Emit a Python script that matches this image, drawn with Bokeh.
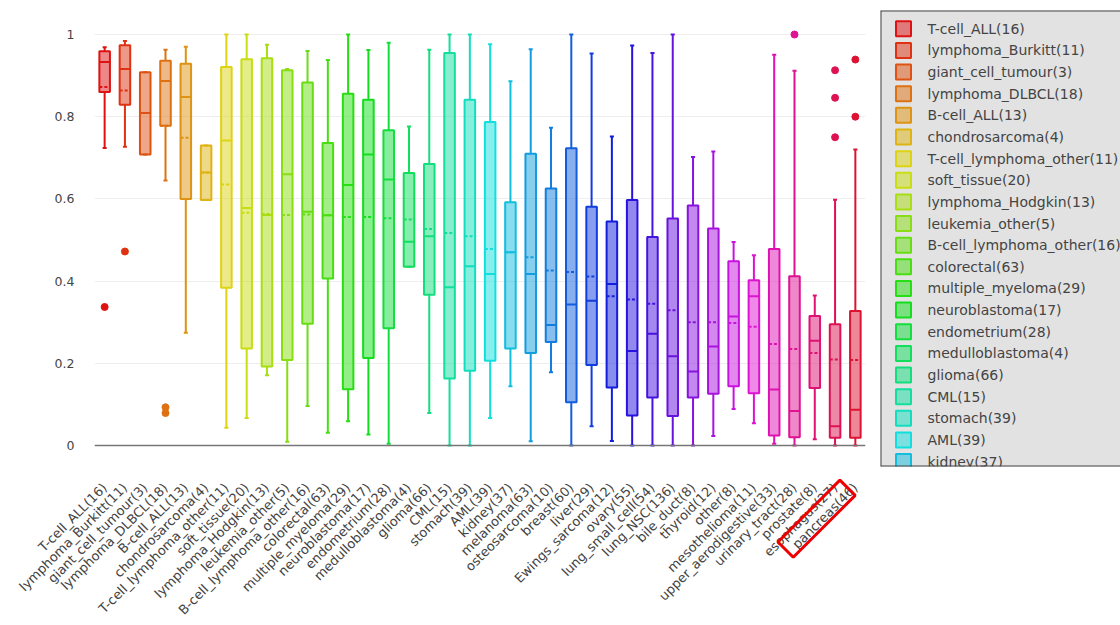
import colorsys
import math

from bokeh.core.properties import value
from bokeh.embed import file_html
from bokeh.layouts import column, row
from bokeh.models import (ColumnDataSource, FactorRange, FixedTicker,
                          NumeralTickFormatter, Range1d, Span)
from bokeh.plotting import figure
from bokeh.resources import INLINE
from bokeh.transform import dodge

# ---- data -----------------------------------------------------------------
tissues = ["T-cell_ALL", "lymphoma_Burkitt", "giant_cell_tumour", "lymphoma_DLBCL",
           "B-cell_ALL", "chondrosarcoma", "T-cell_lymphoma_other", "soft_tissue",
           "lymphoma_Hodgkin", "leukemia_other", "B-cell_lymphoma_other", "colorectal",
           "multiple_myeloma", "neuroblastoma", "endometrium", "medulloblastoma",
           "glioma", "CML", "stomach", "AML", "kidney", "melanoma", "osteosarcoma",
           "breast", "liver", "Ewings_sarcoma", "ovary", "lung_small_cell", "lung_NSC",
           "bile_duct", "thyroid", "other", "mesothelioma", "upper_aerodigestive",
           "urinary_tract", "prostate", "esophagus", "pancreas"]
counts = [16, 11, 3, 18, 13, 4, 11, 20, 13, 5, 16, 63, 29, 17, 28, 4, 66, 15, 39,
          39, 37, 63, 10, 60, 29, 12, 55, 54, 136, 8, 12, 8, 11, 33, 28, 8, 27, 46]

whisker_low = [0.724, 0.727, 0.708, 0.645, 0.274, 0.597, 0.043, 0.067, 0.171, 0.009,
               0.096, 0.031, 0.059, 0.027, 0.004, 0.435, 0.079, 0.0, 0.0, 0.067,
               0.144, 0.010, 0.178, 0.0, 0.047, 0.011, 0.0, 0.0, 0.0, 0.0,
               0.023, 0.089, 0.054, 0.004, 0.0, 0.015, 0.0, 0.0]
q1 = [0.860, 0.829, 0.708, 0.778, 0.600, 0.597, 0.384, 0.236, 0.192, 0.208,
      0.296, 0.406, 0.137, 0.213, 0.285, 0.435, 0.367, 0.163, 0.182, 0.206,
      0.236, 0.225, 0.252, 0.105, 0.196, 0.141, 0.073, 0.117, 0.072, 0.117,
      0.126, 0.144, 0.127, 0.024, 0.020, 0.140, 0.019, 0.019]
median = [0.933, 0.916, 0.809, 0.887, 0.848, 0.664, 0.742, 0.578, 0.561, 0.660,
          0.569, 0.560, 0.634, 0.708, 0.647, 0.496, 0.509, 0.385, 0.436, 0.417,
          0.470, 0.417, 0.293, 0.343, 0.352, 0.393, 0.230, 0.272, 0.217, 0.180,
          0.241, 0.314, 0.363, 0.136, 0.084, 0.255, 0.047, 0.087]
q3 = [0.959, 0.974, 0.908, 0.936, 0.929, 0.730, 0.921, 0.940, 0.942, 0.913,
      0.883, 0.736, 0.856, 0.841, 0.767, 0.663, 0.685, 0.955, 0.841, 0.787,
      0.592, 0.710, 0.625, 0.723, 0.581, 0.545, 0.597, 0.507, 0.552, 0.584,
      0.528, 0.448, 0.402, 0.478, 0.412, 0.315, 0.295, 0.327]
whisker_high = [0.969, 0.984, 0.908, 0.963, 0.970, 0.730, 1.0, 1.0, 0.975, 0.916,
                0.960, 0.938, 1.0, 0.962, 0.980, 0.776, 0.963, 1.0, 1.0, 0.976,
                0.886, 0.964, 0.773, 1.0, 0.954, 0.752, 0.973, 0.955, 1.0, 0.702,
                0.715, 0.495, 0.463, 0.951, 0.912, 0.365, 0.598, 0.720]
mean = [0.872, 0.864, 0.809, 0.778, 0.749, 0.664, 0.635, 0.566, 0.563, 0.561,
        0.562, 0.560, 0.556, 0.556, 0.553, 0.550, 0.527, 0.517, 0.509, 0.478,
        0.470, 0.458, 0.426, 0.422, 0.411, 0.363, 0.355, 0.345, 0.329, 0.300,
        0.300, 0.298, 0.289, 0.247, 0.235, 0.225, 0.209, 0.208]

outlier_tissue = ["T-cell_ALL", "lymphoma_Burkitt", "lymphoma_DLBCL", "lymphoma_DLBCL",
                  "urinary_tract", "esophagus", "esophagus", "esophagus",
                  "pancreas", "pancreas"]
outlier_value = [0.337, 0.472, 0.093, 0.079, 1.0, 0.913, 0.846, 0.750, 0.939, 0.800]

y_ticks = [0, 0.2, 0.4, 0.6, 0.8, 1]
highlighted = "pancreas"

# ---- styling helpers --------------------------------------------------------
FONT = "DejaVu Sans"
TEXT_COLOR = "#444444"
X_LABEL_SIZE = "13px"


def rainbow(i, n):
    r, g, b = colorsys.hls_to_rgb(i / n, 0.47, 0.85)
    return "#%02x%02x%02x" % (round(r * 255), round(g * 255), round(b * 255))


n = len(tissues)
colors = [rainbow(i, n) for i in range(n)]
labels = [f"{t}({c})" for t, c in zip(tissues, counts)]
label_of = dict(zip(tissues, labels))
color_of = dict(zip(tissues, colors))

# ---- main box plot ------------------------------------------------------------
W, H = 880, 625
LEFT, RIGHT, TOP, BOTTOM = 94, 15, 9, 160
Y0, Y1 = -0.0487, 1.0608

p = figure(x_range=FactorRange(factors=labels, range_padding=0),
           y_range=Range1d(Y0, Y1), width=W, height=H,
           output_backend="svg", toolbar_location=None,
           min_border_left=LEFT, min_border_right=RIGHT,
           min_border_top=TOP, min_border_bottom=BOTTOM,
           outline_line_color=None)

src = ColumnDataSource(dict(label=labels, lo=whisker_low, q1=q1, med=median,
                            q3=q3, hi=whisker_high, mean=mean, color=colors))

box_w = 0.52
cap_w = 0.1

# whiskers and caps
p.segment(x0="label", y0="lo", x1="label", y1="q1", source=src,
          line_color="color", line_width=2)
p.segment(x0="label", y0="q3", x1="label", y1="hi", source=src,
          line_color="color", line_width=2)
for key in ("lo", "hi"):
    p.segment(x0=dodge("label", -cap_w, range=p.x_range), y0=key,
              x1=dodge("label", cap_w, range=p.x_range), y1=key, source=src,
              line_color="color", line_width=2)

# boxes
p.vbar(x="label", width=box_w, bottom="q1", top="q3", source=src,
       fill_color="color", fill_alpha=0.5, line_color="color", line_width=2)

# median (solid) and mean (dashed)
p.segment(x0=dodge("label", -box_w / 2, range=p.x_range), y0="med",
          x1=dodge("label", box_w / 2, range=p.x_range), y1="med", source=src,
          line_color="color", line_width=2)
p.segment(x0=dodge("label", -box_w / 2, range=p.x_range), y0="mean",
          x1=dodge("label", box_w / 2, range=p.x_range), y1="mean", source=src,
          line_color="color", line_width=2, line_dash="3 2")

# outliers
p.scatter(x=[label_of[t] for t in outlier_tissue], y=outlier_value, size=7,
          color=[color_of[t] for t in outlier_tissue])

# zero line
p.add_layout(Span(location=0, dimension="width", line_color="#777777", line_width=1.5))

# axes and grid
p.xgrid.grid_line_color = None
p.ygrid.grid_line_color = "#eeeeee"
p.ygrid.ticker = FixedTicker(ticks=y_ticks[1:])
p.yaxis.ticker = FixedTicker(ticks=y_ticks)
p.yaxis.formatter = NumeralTickFormatter(format="0.[0]")
for ax in (p.xaxis[0], p.yaxis[0]):
    ax.axis_line_color = None
    ax.major_tick_line_color = None
    ax.minor_tick_line_color = None
    ax.major_label_text_font = FONT
    ax.major_label_text_color = TEXT_COLOR
p.yaxis.major_label_text_font_size = "12.5px"
p.xaxis.major_label_text_font_size = X_LABEL_SIZE
p.yaxis.major_label_standoff = 14
p.xaxis.major_label_orientation = math.pi / 4
p.xaxis.major_label_standoff = 14

# ---- transparent layer over the label strip: red frame around one label -------
OV_H = 195                                   # height of the strip it covers
ov = figure(width=W, height=OV_H, x_range=Range1d(0, W), y_range=Range1d(0, OV_H),
            output_backend="svg", toolbar_location=None,
            x_axis_location=None, y_axis_location=None,
            min_border_left=0, min_border_right=0, min_border_top=0,
            min_border_bottom=0, background_fill_color=None,
            border_fill_color=None, outline_line_color=None)
ov.grid.visible = False
ov.margin = (-OV_H, 0, 0, 0)

px_per_cat = (W - LEFT - RIGHT) / n
tick_px = LEFT + (tissues.index(highlighted) + 0.5) * px_per_cat
frame_bottom_px = H - BOTTOM
centre_x = tick_px - 30.7
centre_y_from_top = frame_bottom_px + 53.2 - (H - OV_H)
ov.rect(x=[centre_x], y=[OV_H - centre_y_from_top], width=100, height=21.6,
        angle=math.pi / 4, fill_color=None, line_color="#ee0000", line_width=3)

# ---- scrolling legend panel ---------------------------------------------------
LW = 240
LTOP, LH = 10, 456
leg = figure(width=LW, height=H, x_range=Range1d(0, LW), y_range=Range1d(LH, 0),
             output_backend="svg", toolbar_location=None,
             x_axis_location=None, y_axis_location=None,
             min_border_left=0, min_border_right=0,
             min_border_top=LTOP, min_border_bottom=H - LTOP - LH,
             background_fill_color="#e2e2e2", outline_line_color=None)
leg.grid.visible = False

# only the entries that fit in the visible part of the legend box
step = 21.64
item_y = [18.3 + step * i for i in range(n)]
shown = [i for i in range(n) if item_y[i] - 8 < LH]
leg.rect(x=23, y=[item_y[i] for i in shown], width=15, height=15,
         fill_color=[colors[i] for i in shown], fill_alpha=0.5,
         line_color=[colors[i] for i in shown], line_width=2)
leg.text(x=47, y=[item_y[i] for i in shown], text=[labels[i] for i in shown],
         text_baseline="middle", text_font=value(FONT), text_font_size="14px",
         text_color=TEXT_COLOR)

# left, top and bottom edges of the legend box
leg.segment(x0=[0, 0, 0], y0=[0, 0, LH], x1=[0, LW, LW], y1=[LH, 0, LH],
            line_color="#444444", line_width=2)

layout = row(column(p, ov), leg)
open("out.html", "w").write(file_html(layout, INLINE))
